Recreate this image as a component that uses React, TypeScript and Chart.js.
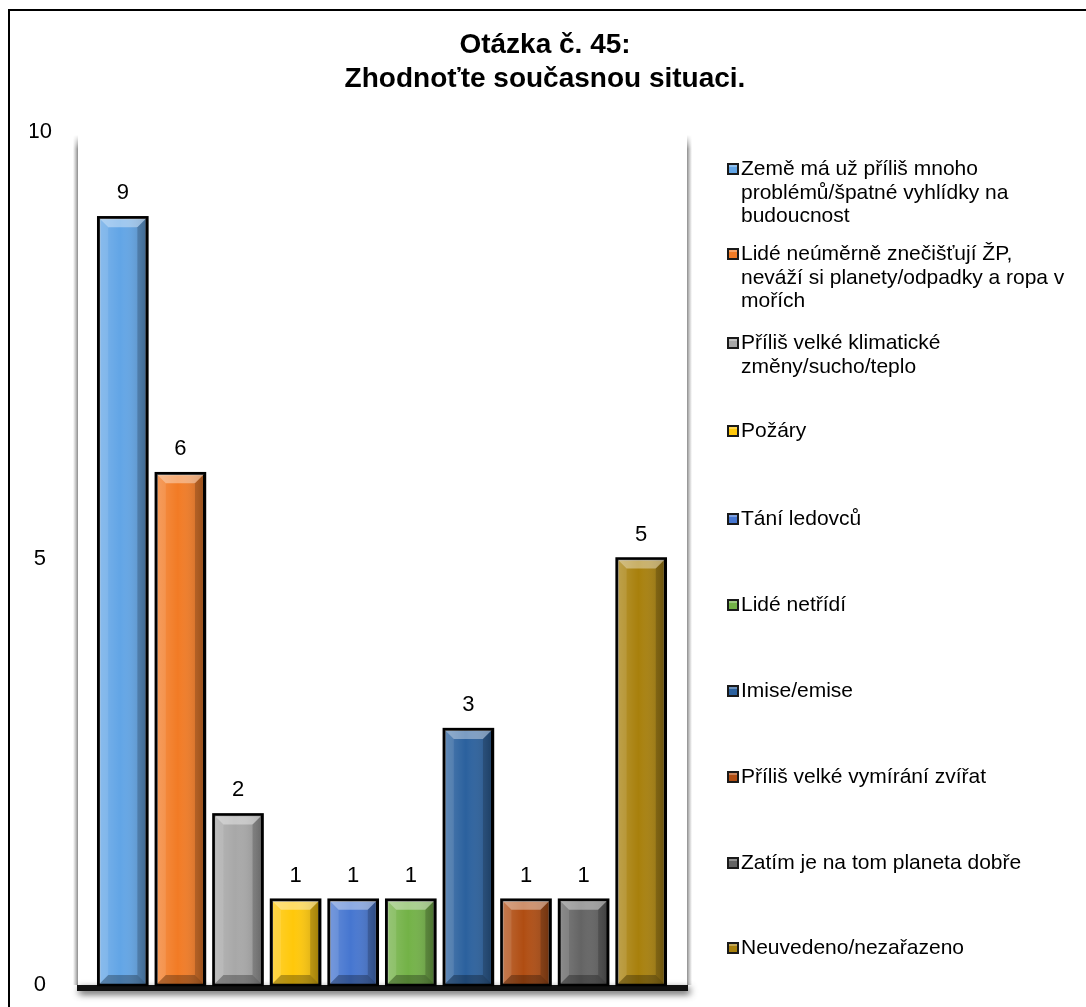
import React, { useEffect, useRef } from 'react';
import { Chart, registerables } from 'chart.js';

Chart.register(...registerables);

const titleLines = ['Otázka č. 45:', 'Zhodnoťte současnou situaci.'];

const categories: string[][] = [
  ['Země má už příliš mnoho', 'problémů/špatné vyhlídky na', 'budoucnost'],
  ['Lidé neúměrně znečišťují ŽP,', 'neváží si planety/odpadky a ropa v', 'mořích'],
  ['Příliš velké klimatické', 'změny/sucho/teplo'],
  ['Požáry'],
  ['Tání ledovců'],
  ['Lidé netřídí'],
  ['Imise/emise'],
  ['Příliš velké vymírání zvířat'],
  ['Zatím je na tom planeta dobře'],
  ['Neuvedeno/nezařazeno'],
];

const values = [9, 6, 2, 1, 1, 1, 3, 1, 1, 5];

const barColors = [
  '#62a5e6',
  '#f27b25',
  '#a8a8a8',
  '#ffc80a',
  '#4676d0',
  '#73b247',
  '#2b619e',
  '#b04d12',
  '#646464',
  '#a8800c',
];

const yTicks = [0, 5, 10];

const legendBaselines = [175, 260, 349, 437, 525, 611, 697, 783, 869, 954];

const FONT = '"Liberation Sans", Arial, sans-serif';

function poly(ctx: CanvasRenderingContext2D, pts: number[][], fill: string | CanvasGradient) {
  ctx.beginPath();
  ctx.moveTo(pts[0][0], pts[0][1]);
  for (let i = 1; i < pts.length; i++) ctx.lineTo(pts[i][0], pts[i][1]);
  ctx.closePath();
  ctx.fillStyle = fill;
  ctx.fill();
}

const backgroundPlugin = {
  id: 'bgWall',
  beforeDraw(chart: any) {
    const ctx: CanvasRenderingContext2D = chart.ctx;
    const { left, right, top, bottom } = chart.chartArea;
    ctx.save();
    ctx.fillStyle = '#ffffff';
    ctx.fillRect(0, 0, chart.width, chart.height);
    ctx.strokeStyle = '#000';
    ctx.lineWidth = 2;
    ctx.strokeRect(9, 10, chart.width + 50, chart.height + 50);

    const wl = left - 17;
    const wr = right + 18;
    const wt = top + 3;
    const wb = bottom;
    const gl = ctx.createLinearGradient(wl - 4, 0, wl + 1, 0);
    gl.addColorStop(0, 'rgba(0,0,0,0)');
    gl.addColorStop(0.6, 'rgba(0,0,0,0.25)');
    gl.addColorStop(1, 'rgba(0,0,0,0.45)');
    ctx.fillStyle = gl;
    ctx.fillRect(wl - 4, wt, 5, wb - wt);
    const gr = ctx.createLinearGradient(wr - 1, 0, wr + 4, 0);
    gr.addColorStop(0, 'rgba(0,0,0,0.45)');
    gr.addColorStop(0.4, 'rgba(0,0,0,0.25)');
    gr.addColorStop(1, 'rgba(0,0,0,0)');
    ctx.fillStyle = gr;
    ctx.fillRect(wr - 1, wt, 5, wb - wt);
    const gt = ctx.createLinearGradient(0, wt, 0, wt + 14);
    gt.addColorStop(0, 'rgba(255,255,255,1)');
    gt.addColorStop(1, 'rgba(255,255,255,0)');
    ctx.fillStyle = gt;
    ctx.fillRect(wl - 5, wt, 7, 14);
    ctx.fillRect(wr - 2, wt, 7, 14);
    ctx.shadowColor = 'rgba(0,0,0,0.7)';
    ctx.shadowBlur = 7;
    ctx.shadowOffsetX = 2;
    ctx.shadowOffsetY = 3;
    ctx.fillStyle = '#111';
    ctx.fillRect(wl, wb, wr - wl, 6);
    ctx.restore();
  },
};

const barDecorPlugin = {
  id: 'barDecor',
  afterDatasetsDraw(chart: any) {
    const ctx: CanvasRenderingContext2D = chart.ctx;
    const meta = chart.getDatasetMeta(0);
    meta.data.forEach((bar: any, i: number) => {
      const { x, y, base, width } = bar.getProps(['x', 'y', 'base', 'width'], true);
      const l = x - width / 2;
      const r = x + width / 2;
      const t = y;
      const b = base;
      const bv = Math.min(10, (b - t) / 3);
      ctx.save();
      const g = ctx.createLinearGradient(l, 0, r, 0);
      g.addColorStop(0, 'rgba(255,255,255,0.18)');
      g.addColorStop(0.45, 'rgba(255,255,255,0.0)');
      g.addColorStop(1, 'rgba(0,0,0,0.25)');
      ctx.fillStyle = g;
      ctx.fillRect(l, t, width, b - t);
      poly(ctx, [[l, t], [r, t], [r - bv, t + bv], [l + bv, t + bv]], 'rgba(255,255,255,0.38)');
      poly(ctx, [[l, t], [l + bv, t + bv], [l + bv, b - bv], [l, b]], 'rgba(255,255,255,0.10)');
      poly(ctx, [[r, t], [r - bv, t + bv], [r - bv, b - bv], [r, b]], 'rgba(0,0,0,0.18)');
      poly(ctx, [[l, b], [l + bv, b - bv], [r - bv, b - bv], [r, b]], 'rgba(0,0,0,0.28)');
      ctx.strokeStyle = '#000';
      ctx.lineWidth = 2.5;
      ctx.strokeRect(l, t, width, b - t);
      ctx.fillStyle = '#000';
      ctx.font = `22px ${FONT}`;
      ctx.textAlign = 'center';
      ctx.textBaseline = 'middle';
      ctx.fillText(String(values[i]), x, t - 24);
      ctx.restore();
    });
  },
};

const textPlugin = {
  id: 'texts',
  afterDraw(chart: any) {
    const ctx: CanvasRenderingContext2D = chart.ctx;
    ctx.save();
    ctx.fillStyle = '#000';
    ctx.font = `bold 28px ${FONT}`;
    ctx.textAlign = 'center';
    ctx.textBaseline = 'middle';
    ctx.fillText(titleLines[0], 545, 45);
    ctx.fillText(titleLines[1], 545, 79);
    ctx.textAlign = 'left';
    ctx.textBaseline = 'alphabetic';
    ctx.font = `21px ${FONT}`;
    categories.forEach((lines, i) => {
      const bl = legendBaselines[i];
      const mx = 727;
      const my = bl - 12;
      ctx.fillStyle = '#1a1a1a';
      ctx.fillRect(mx, my, 12, 12);
      ctx.fillStyle = barColors[i];
      ctx.fillRect(mx + 2, my + 2, 8, 8);
      ctx.fillStyle = 'rgba(255,255,255,0.3)';
      ctx.fillRect(mx + 2, my + 2, 8, 2);
      ctx.fillStyle = '#000';
      lines.forEach((line, k) => {
        ctx.fillText(line, 741, bl + k * 23.5);
      });
    });
    ctx.restore();
  },
};

export default function App() {
  const ref = useRef<HTMLCanvasElement | null>(null);
  useEffect(() => {
    document.body.style.margin = '0';
    const canvas = ref.current;
    if (!canvas) return;
    const chart = new Chart(canvas, {
      type: 'bar',
      data: {
        labels: categories,
        datasets: [
          {
            data: values,
            backgroundColor: barColors,
            borderColor: '#000',
            borderWidth: 2,
            barPercentage: 0.853,
            categoryPercentage: 1,
          },
        ],
      },
      options: {
        responsive: false,
        animation: false,
        events: [],
        layout: { padding: { left: 30, top: 132, right: 416, bottom: 22 } },
        plugins: {
          legend: { display: false },
          title: { display: false },
          tooltip: { enabled: false },
        },
        scales: {
          x: { display: false },
          y: {
            min: 0,
            max: 10,
            afterBuildTicks: (scale: any) => {
              scale.ticks = yTicks.map((v) => ({ value: v }));
            },
            afterFit: (scale: any) => {
              scale.width = 64;
              scale.paddingTop = 0;
              scale.paddingBottom = 0;
            },
            border: { display: false },
            grid: { display: false, drawTicks: false },
            ticks: {
              crossAlign: 'center',
              padding: 42,
              color: '#000',
              font: { family: FONT, size: 22 },
            },
          },
        },
      },
      plugins: [backgroundPlugin, barDecorPlugin, textPlugin],
    });
    return () => chart.destroy();
  }, []);
  return <canvas ref={ref} width={1086} height={1007} style={{ display: 'block' }} />;
}
